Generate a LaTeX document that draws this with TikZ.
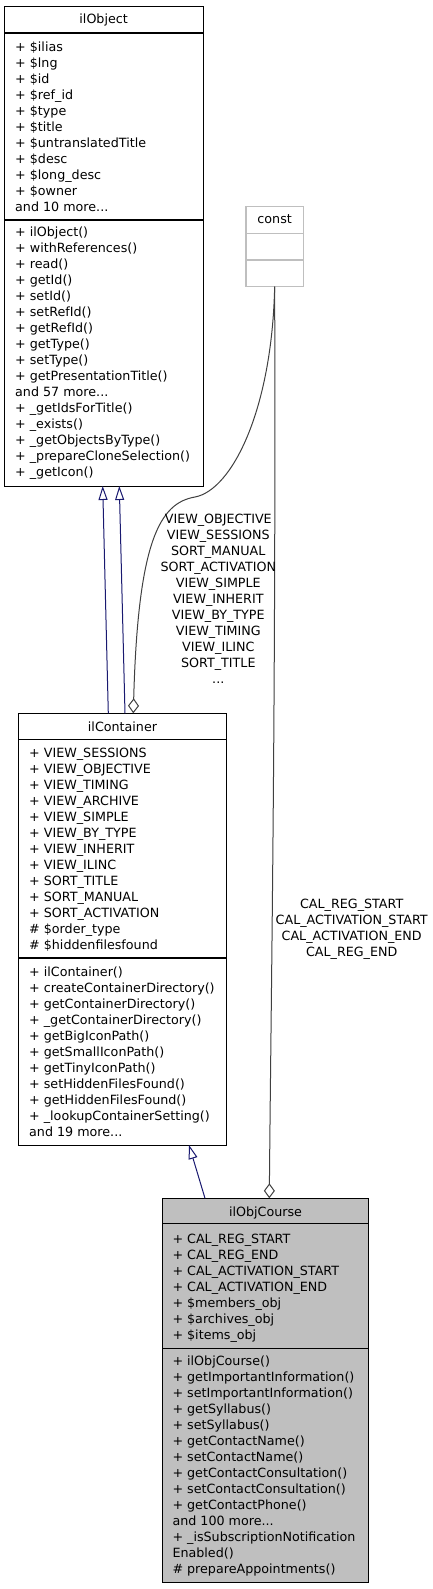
\documentclass[tikz,border=0pt]{standalone}
\usepackage{fontspec}
\setmainfont{DejaVu Sans}
\usetikzlibrary{arrows.meta,calc}
\definecolor{dxblue}{HTML}{191970}
\definecolor{dxgray}{HTML}{404040}
\definecolor{dxfill}{HTML}{BFBFBF}
\definecolor{dxlight}{HTML}{BFBFBF}
\newcommand\mydots{.\kern0pt.\kern0pt.}
\tikzset{
  classbox/.style={draw=black, line width=1pt, rectangle, inner sep=0pt, outer sep=0pt, anchor=north west},
  constbox/.style={draw=dxlight, line width=1.2pt, rectangle, inner sep=0pt, outer sep=0pt, anchor=north west},
  sepline/.style={line width=1.6pt, draw=black},
  constsep/.style={line width=1.2pt, draw=dxlight},
  txt/.style={anchor=base west, inner sep=0pt},
  ttl/.style={anchor=base, inner sep=0pt},
  lbl/.style={anchor=base, inner sep=0pt},
  inh/.style={draw=dxblue, line width=1pt, -{Triangle[open, length=14pt, width=9pt]}},
  agg/.style={draw=dxgray, line width=1pt, -{Diamond[open, length=15pt, width=11pt]}}
}
\begin{document}
\begin{tikzpicture}[x=1pt, y=-1pt, font=\fontsize{12.7}{16}\selectfont]
\useasboundingbox (0,0) rectangle (432,1589);
\fill[white] (0,0) rectangle (432,1589);

% ---------- ilObject ----------
\node[classbox, minimum width=199.3pt, minimum height=479pt] (obj) at (4,7) {};
\draw[sepline] (obj.west |- 0,33.3) -- (obj.east |- 0,33.3);
\draw[sepline] (obj.west |- 0,220) -- (obj.east |- 0,220);
\node[ttl] (objt) at (103.65,24) {ilObject};
\foreach \t [count=\i from 0] in {+ \$ilias, + \$lng, + \$id, + \$ref\_id, + \$type, + \$title, + \$untranslatedTitle, + \$desc, + \$long\_desc, + \$owner, and 10 more\mydots}
  \node[txt] (oa\i) at (15,51.2+16*\i) {\t};
\foreach \t [count=\i from 0] in {+ ilObject(), + withReferences(), + read(), + getId(), + setId(), + setRefId(), + getRefId(), + getType(), + setType(), + getPresentationTitle(), and 57 more\mydots, + \_getIdsForTitle(), + \_exists(), + \_getObjectsByType(), + \_prepareCloneSelection(), + \_getIcon()}
  \node[txt] (om\i) at (15,236.2+16*\i) {\t};

% ---------- const ----------
\node[constbox, minimum width=57.3pt, minimum height=80pt] (const) at (246,206.7) {};
\draw[constsep] (const.west |- 0,233.3) -- (const.east |- 0,233.3);
\draw[constsep] (const.west |- 0,260) -- (const.east |- 0,260);
\node[ttl] (constt) at (274.65,224) {const};

% ---------- ilContainer ----------
\node[classbox, minimum width=208.4pt, minimum height=431.7pt] (cont) at (18.3,713.3) {};
\draw[sepline] (cont.west |- 0,739.3) -- (cont.east |- 0,739.3);
\draw[sepline] (cont.west |- 0,957.7) -- (cont.east |- 0,957.7);
\node[ttl] (contt) at (122.5,731.3) {ilContainer};
\foreach \t [count=\i from 0] in {+ VIEW\_SESSIONS, + VIEW\_OBJECTIVE, + VIEW\_TIMING, + VIEW\_ARCHIVE, + VIEW\_SIMPLE, + VIEW\_BY\_TYPE, + VIEW\_INHERIT, + VIEW\_ILINC, + SORT\_TITLE, + SORT\_MANUAL, + SORT\_ACTIVATION, \# \$order\_type, \# \$hiddenfilesfound}
  \node[txt] (ca\i) at (29,757.2+16*\i) {\t};
\foreach \t [count=\i from 0] in {+ ilContainer(), + createContainerDirectory(), + getContainerDirectory(), + \_getContainerDirectory(), + getBigIconPath(), + getSmallIconPath(), + getTinyIconPath(), + setHiddenFilesFound(), + getHiddenFilesFound(), + \_lookupContainerSetting(), and 19 more\mydots}
  \node[txt] (cm\i) at (29,976.2+16*\i) {\t};

% ---------- ilObjCourse ----------
\node[classbox, fill=dxfill, minimum width=205.6pt, minimum height=383.7pt] (course) at (162.7,1198.3) {};
\draw[sepline] (course.west |- 0,1223.3) -- (course.east |- 0,1223.3);
\draw[sepline] (course.west |- 0,1348.3) -- (course.east |- 0,1348.3);
\node[ttl] (courset) at (265.5,1216.5) {ilObjCourse};
\foreach \t [count=\i from 0] in {+ CAL\_REG\_START, + CAL\_REG\_END, + CAL\_ACTIVATION\_START, + CAL\_ACTIVATION\_END, + \$members\_obj, + \$archives\_obj, + \$items\_obj}
  \node[txt] (ka\i) at (172.3,1243.5+16*\i) {\t};
\foreach \t [count=\i from 0] in {+ ilObjCourse(), + getImportantInformation(), + setImportantInformation(), + getSyllabus(), + setSyllabus(), + getContactName(), + setContactName(), + getContactConsultation(), + setContactConsultation(), + getContactPhone(), and 100 more\mydots, + \_isSubscriptionNotification, Enabled(), \# prepareAppointments()}
  \node[txt] (km\i) at (172.3,1365.2+16*\i) {\t};

% ---------- connectors ----------
\draw[inh] ([xshift=90pt]cont.north west) -- ([xshift=98.7pt]obj.south west);
\draw[inh] ([xshift=106.7pt]cont.north west) -- ([xshift=115.3pt]obj.south west);
\draw[inh] ([xshift=42.3pt]course.north west) -- ([xshift=170.7pt]cont.south west);

\coordinate (bend) at (195,497);
\draw[agg] (const.south) .. controls (272,410) and (232,490) .. (bend)
  .. controls (160,503) and (138,540) .. ([xshift=115pt]cont.north west);
\draw[agg] (const.south) .. controls (276,700) and (271,1000) .. ([xshift=106.6pt]course.north west);

% ---------- edge labels ----------
\foreach \t [count=\i from 0] in {VIEW\_OBJECTIVE, VIEW\_SESSIONS, SORT\_MANUAL, SORT\_ACTIVATION, VIEW\_SIMPLE, VIEW\_INHERIT, VIEW\_BY\_TYPE, VIEW\_TIMING, VIEW\_ILINC, SORT\_TITLE, \mydots}
  \node[lbl] (la\i) at (218.3,523.8+16*\i) {\t};
\foreach \t [count=\i from 0] in {CAL\_REG\_START, CAL\_ACTIVATION\_START, CAL\_ACTIVATION\_END, CAL\_REG\_END}
  \node[lbl] (lb\i) at (351.7,908.8+16*\i) {\t};
\end{tikzpicture}
\end{document}
